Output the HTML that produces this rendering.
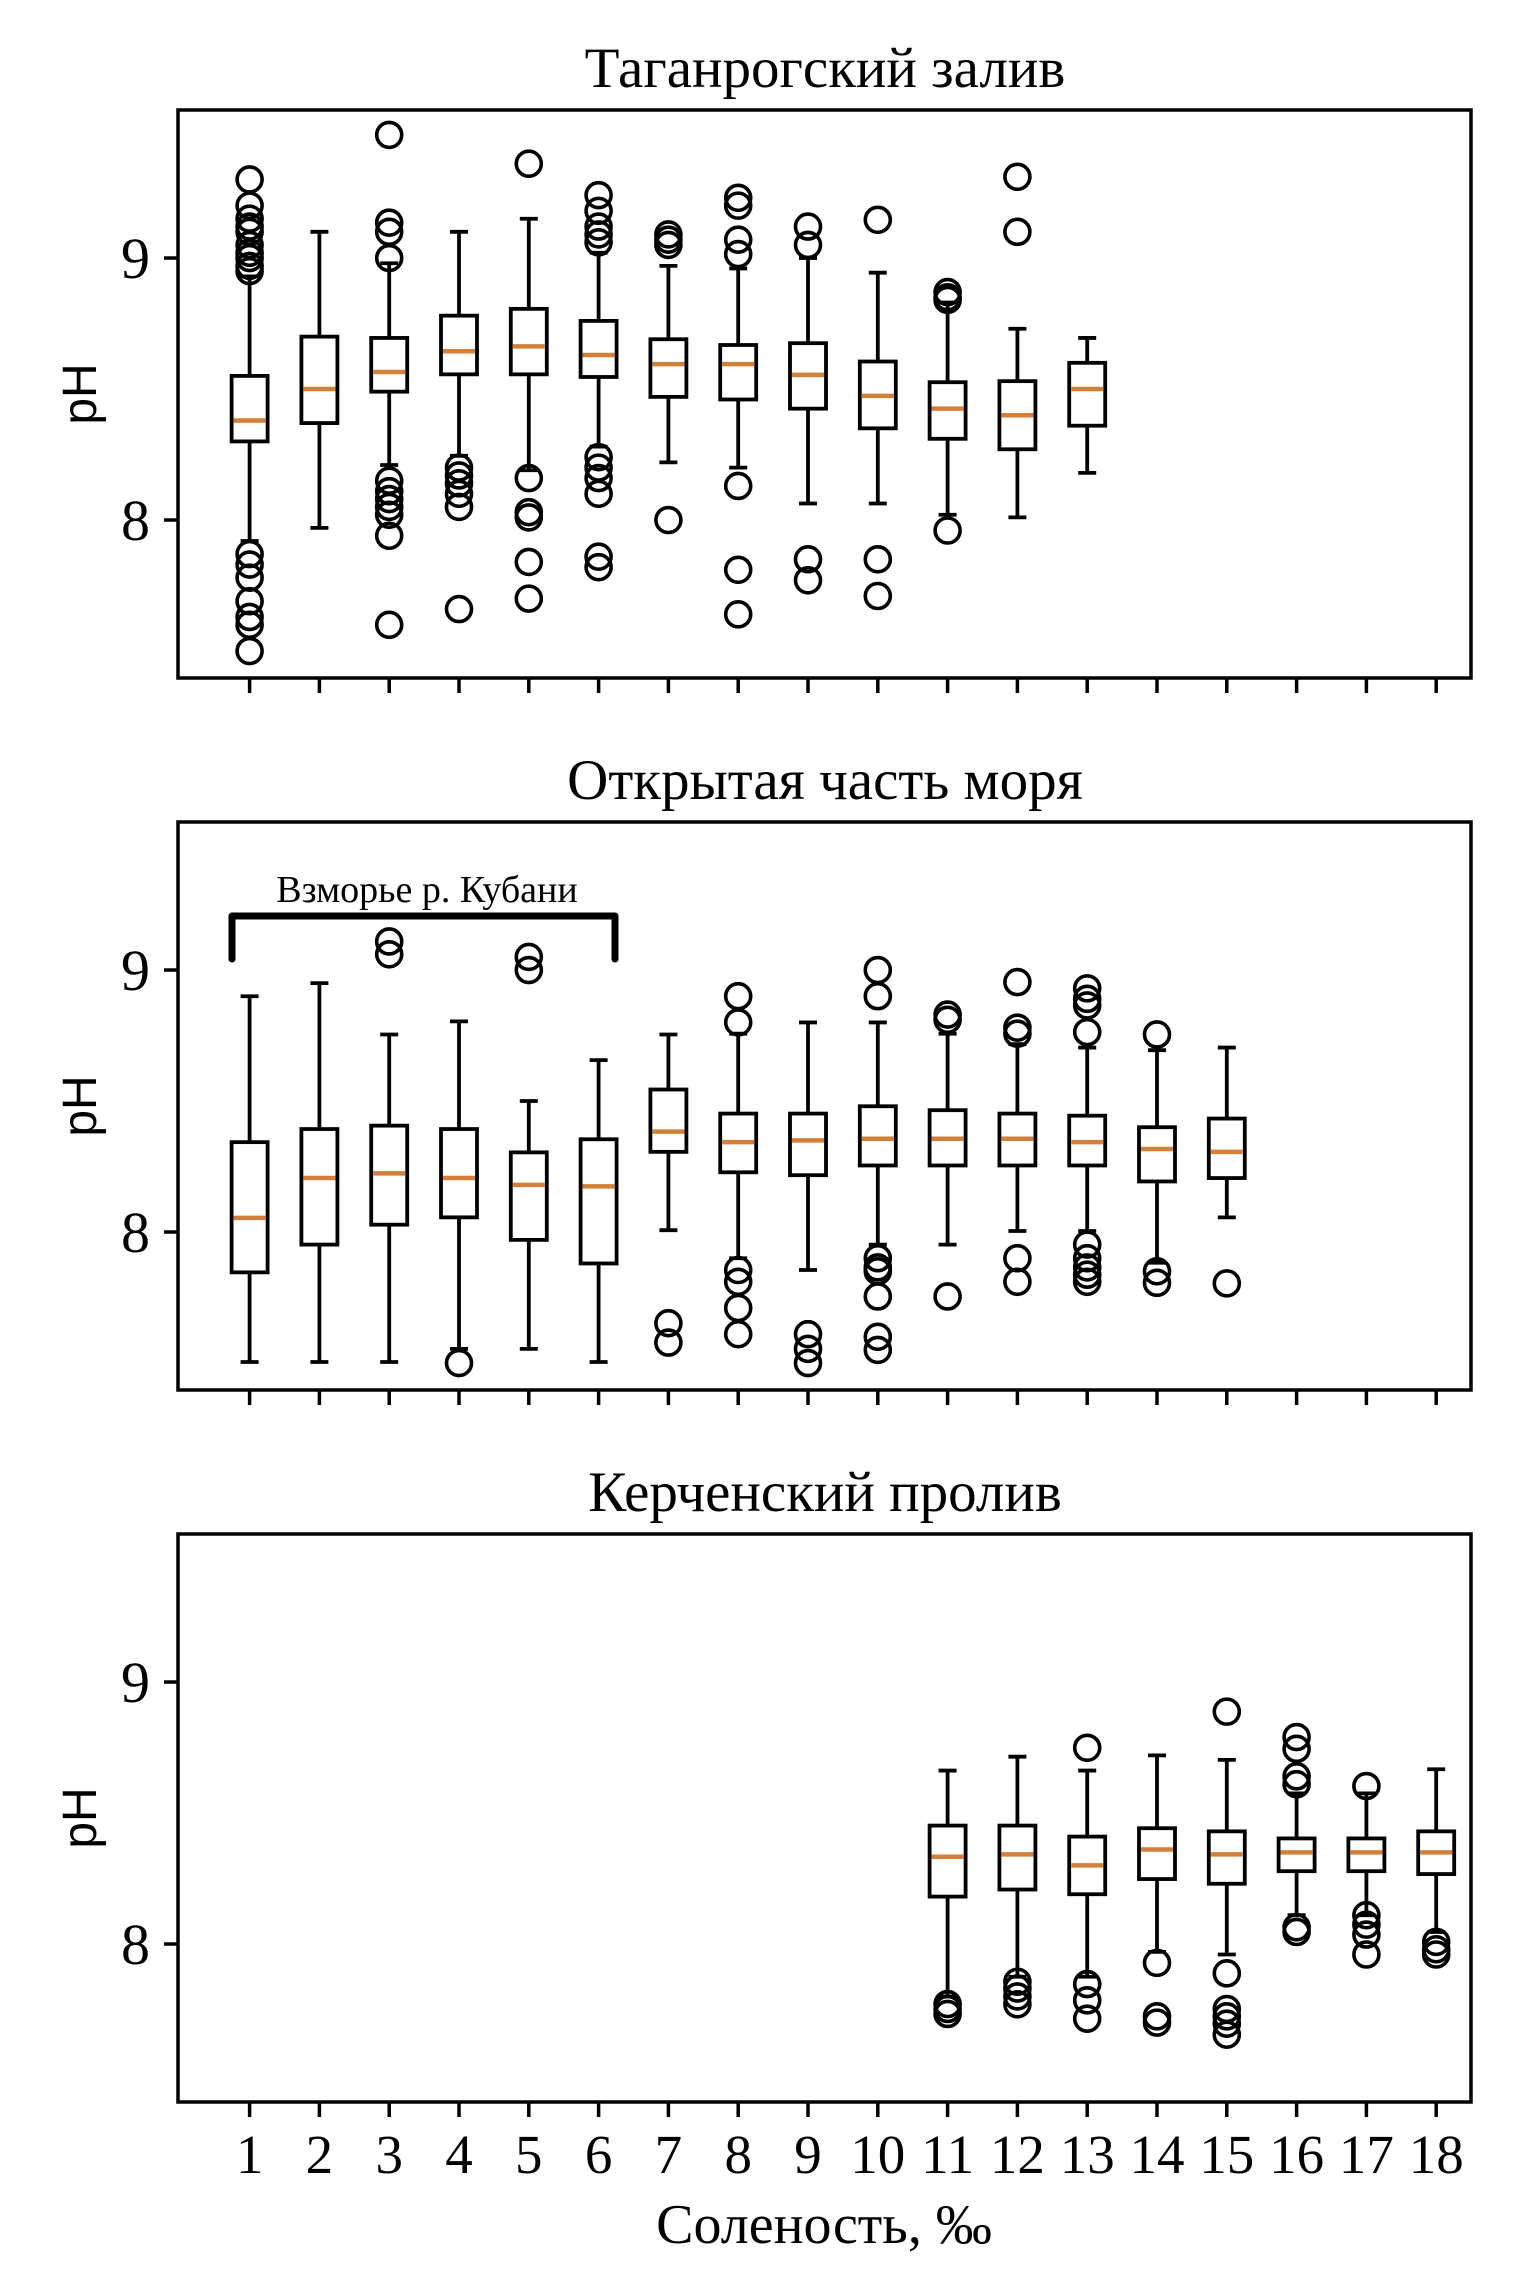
<!DOCTYPE html>
<html><head><meta charset="utf-8"><style>
html,body{margin:0;padding:0;background:#fff;}
svg{display:block;}
text{font-family:"Liberation Serif",serif;fill:#000;}
</style></head><body>
<svg id="chart" width="1530" height="2276" viewBox="0 0 1530 2276" xmlns="http://www.w3.org/2000/svg"></svg>
<script>
const categories = [1,2,3,4,5,6,7,8,9,10,11,12,13,14,15,16,17,18];
const yTicks = [8, 9];
const panelTitles = ["Таганрогский залив", "Открытая часть моря", "Керченский пролив"];
// Panel 1: Taganrog Bay  [salinity, wLow, q1, median, q3, wHigh]
const p1Boxes = [
 [1,7.92,8.30,8.38,8.55,8.93],[2,7.97,8.37,8.50,8.70,9.10],[3,8.21,8.49,8.565,8.695,8.98],
 [4,8.245,8.556,8.644,8.78,9.10],[5,8.19,8.556,8.663,8.806,9.15],[6,8.28,8.546,8.63,8.76,9.02],
 [7,8.22,8.47,8.595,8.69,8.97],[8,8.20,8.46,8.595,8.668,8.96],[9,8.063,8.425,8.554,8.675,9.0],
 [10,8.063,8.35,8.474,8.605,8.944],[11,8.02,8.31,8.425,8.526,8.83],[12,8.01,8.27,8.40,8.53,8.73],
 [13,8.18,8.36,8.50,8.60,8.695]];
const p1Fliers = [
 [1,[9.30,9.20,9.15,9.12,9.10,9.05,9.02,9.0,8.97,8.95,7.87,7.83,7.78,7.69,7.63,7.6,7.5]],
 [3,[9.47,9.135,9.10,9.0,8.15,8.11,8.08,8.05,8.02,7.94,7.60]],
 [4,[8.2,8.17,8.14,8.1,8.05,7.66]],
 [5,[9.36,8.16,8.03,8.01,7.84,7.70]],
 [6,[9.24,9.18,9.12,9.09,9.06,8.24,8.2,8.16,8.1,7.86,7.82]],
 [7,[9.09,9.07,9.05,8.0]],
 [8,[9.23,9.20,9.07,9.015,8.13,7.81,7.64]],
 [9,[9.12,9.05,7.85,7.77]],
 [10,[9.146,7.85,7.71]],
 [11,[8.87,8.85,8.84,7.96]],
 [12,[9.31,9.10]]];
// Panel 2: open sea
const p2Boxes = [
 [1,7.504,7.846,8.054,8.343,8.90],[2,7.504,7.952,8.206,8.393,8.95],[3,7.504,8.028,8.224,8.406,8.754],
 [4,7.554,8.056,8.206,8.393,8.804],[5,7.554,7.97,8.18,8.304,8.50],[6,7.504,7.88,8.174,8.354,8.656],
 [7,8.007,8.306,8.383,8.544,8.754],[8,7.90,8.228,8.343,8.452,8.757],[9,7.855,8.217,8.35,8.452,8.80],
 [10,7.952,8.254,8.356,8.48,8.80],[11,7.952,8.254,8.356,8.465,8.757],[12,8.004,8.254,8.356,8.452,8.717],
 [13,8.004,8.254,8.343,8.444,8.704],[14,7.883,8.193,8.317,8.40,8.694],[15,8.056,8.206,8.306,8.433,8.704]];
const p2Fliers = [
 [3,[9.109,9.06]],[4,[7.50]],[5,[9.05,9.0]],[7,[7.652,7.578]],
 [8,[8.90,8.80,7.855,7.81,7.71,7.61]],[9,[7.61,7.554,7.50]],
 [10,[9.0,8.9,7.9,7.865,7.85,7.754,7.60,7.55]],[11,[8.83,8.81,7.754]],
 [12,[8.954,8.78,8.757,7.90,7.81]],[13,[8.93,8.89,8.865,8.763,7.952,7.90,7.865,7.837,7.81]],
 [14,[8.754,7.85,7.806]],[15,[7.804]]];
// Panel 3: Kerch Strait
const p3Boxes = [
 [11,7.80,8.181,8.333,8.452,8.662],[12,7.875,8.208,8.342,8.452,8.715],[13,7.875,8.19,8.30,8.41,8.662],
 [14,7.97,8.248,8.361,8.442,8.72],[15,7.96,8.23,8.342,8.43,8.703],[16,8.11,8.278,8.35,8.403,8.575],
 [17,8.11,8.278,8.35,8.403,8.575],[18,8.046,8.267,8.35,8.43,8.667]];
const p3Fliers = [
 [11,[7.771,7.752,7.733]],[12,[7.856,7.83,7.80,7.77]],[13,[8.749,7.847,7.785,7.715]],
 [14,[7.928,7.724,7.70]],[15,[8.887,7.888,7.752,7.724,7.696,7.654]],
 [16,[8.79,8.745,8.64,8.61,8.064,8.046]],[17,[8.603,8.11,8.074,8.036,7.96]],[18,[8.008,7.98,7.96]]];

const NS = "http://www.w3.org/2000/svg";
const svg = document.getElementById('chart');
const L = 178, R = 1471, PH = 568, YMAX = 9.565, YMIN = 7.397;
const tops = [110, 822, 1534];
const X0 = 249.6, DX = 69.8;
function xs(c){ return X0 + (c-1)*DX; }
function mk(tag, attrs, parent){
  const e = document.createElementNS(NS, tag);
  for (const k in attrs) e.setAttribute(k, attrs[k]);
  (parent||svg).appendChild(e); return e;
}
const boxesAll = [p1Boxes, p2Boxes, p3Boxes];
const fliersAll = [p1Fliers, p2Fliers, p3Fliers];
const panelNames = ['taganrog-bay-panel','open-sea-panel','kerch-strait-panel'];

tops.forEach((top, pi) => {
  const ys = v => top + (YMAX - v) * PH / (YMAX - YMIN);
  const g = mk('g', {});
  
  
  const t = mk('text', {x: 825, y: top - 23, 'font-size': 57, 'text-anchor': 'middle'}, g);
  t.textContent = panelTitles[pi];
  
  
  const yl = mk('text', {x: 0, y: 0, 'font-size': 48, 'text-anchor': 'middle', transform: `translate(96 ${top+PH/2}) rotate(-90)`, style: 'font-family:"Liberation Sans",sans-serif'}, g);
  yl.textContent = 'pH';
  
  
  yTicks.forEach(v => {
    const tk = mk('line', {x1: L-14, x2: L, y1: ys(v), y2: ys(v), stroke: '#000', 'stroke-width': 3.5}, g);
    
    
    const tl = mk('text', {x: L-28, y: ys(v)+20, 'font-size': 58, 'text-anchor': 'end'}, g);
    tl.textContent = v;
    
    
  });
  categories.forEach(c => {
    const tk = mk('line', {x1: xs(c), x2: xs(c), y1: top+PH, y2: top+PH+15, stroke: '#000', 'stroke-width': 3.5}, g);
    
    
    if (pi === 2) {
      const tl = mk('text', {x: xs(c), y: 2173, 'font-size': 55, 'text-anchor': 'middle'}, g);
      tl.textContent = c;
      
      
    }
  });
  boxesAll[pi].forEach(b => {
    const [c, lo, q1, md, q3, hi] = b;
    const x = xs(c), hw = 18, cw = 9;
    const bg = mk('g', {stroke: '#000', 'stroke-width': 3.8, fill: 'none'}, g);
    
    
    mk('line', {x1: x, x2: x, y1: ys(q3), y2: ys(hi)}, bg);
    mk('line', {x1: x, x2: x, y1: ys(q1), y2: ys(lo)}, bg);
    mk('line', {x1: x-cw, x2: x+cw, y1: ys(hi), y2: ys(hi)}, bg);
    mk('line', {x1: x-cw, x2: x+cw, y1: ys(lo), y2: ys(lo)}, bg);
    mk('rect', {x: x-hw, y: ys(q3), width: 2*hw, height: ys(q1)-ys(q3)}, bg);
    const m = mk('line', {x1: x-hw+2, x2: x+hw-2, y1: ys(md), y2: ys(md), stroke: '#d4803a', 'stroke-width': 4.5}, bg);
    
    
  });
  fliersAll[pi].forEach(f => {
    const [c, vals] = f;
    vals.forEach(v => {
      const o = mk('circle', {cx: xs(c), cy: ys(v), r: 12.5, fill: 'none', stroke: '#000', 'stroke-width': 3.6}, g);
      
      
    });
  });
  const fr = mk('rect', {x: L, y: top, width: R-L, height: PH, fill: 'none', stroke: '#000', 'stroke-width': 3.5}, g);
  
  
});

// Bracket annotation in panel 2
const br = mk('path', {d: 'M232 959 L232 916 L615 916 L615 959', fill: 'none', stroke: '#000', 'stroke-width': 7, 'stroke-linecap': 'round', 'stroke-linejoin': 'round'});


const bt = mk('text', {x: 427, y: 902, 'font-size': 38, 'text-anchor': 'middle'});
bt.textContent = 'Взморье р. Кубани';



const xl = mk('text', {x: 824, y: 2243, 'font-size': 56, 'text-anchor': 'middle'});
xl.textContent = 'Соленость, ‰';


</script>
</body></html>
